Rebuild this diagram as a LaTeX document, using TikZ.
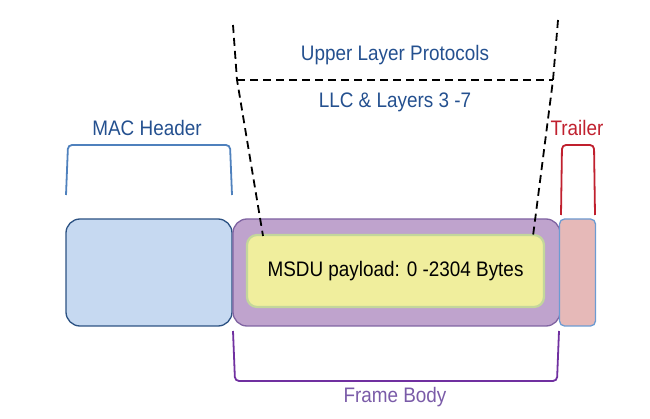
\documentclass[tikz,border=0pt]{standalone}
\usepackage{fontspec}
\setmainfont{Liberation Sans}[FakeStretch=0.9]
\definecolor{macfill}{HTML}{C6D9F1}
\definecolor{macline}{HTML}{2C5283}
\definecolor{bodyfill}{HTML}{BFA3CD}
\definecolor{bodyline}{HTML}{8064A2}
\definecolor{payfill}{HTML}{F0EE9D}
\definecolor{payline}{HTML}{C3D69B}
\definecolor{trailfill}{HTML}{E6B9B8}
\definecolor{trailline}{HTML}{6C9BD2}
\definecolor{labelblue}{HTML}{24508F}
\definecolor{braceblue}{HTML}{4F81BD}
\definecolor{tred}{HTML}{C0202E}
\definecolor{bracepurple}{HTML}{7030A0}
\definecolor{labelpurple}{HTML}{7A5BA8}
\tikzset{
  field/.style={draw, rounded corners=14pt, line width=1.3pt, inner sep=0pt},
  brace/.style={line width=1.8pt, rounded corners=4pt},
  layerline/.style={line width=1.8pt, dash pattern=on 8pt off 5pt},
  lbl/.style={font=\fontsize{21}{24}\selectfont}
}

\begin{document}
\begin{tikzpicture}[x=1pt,y=-1pt]
    \useasboundingbox (0,0) rectangle (650,419);

    % frame fields
    \node[field, fill=macfill, draw=macline, minimum width=166pt, minimum height=107pt] (mac) at (149,272.5) {};
    \node[field, fill=bodyfill, draw=bodyline, minimum width=327pt, minimum height=107pt] (body) at (396.5,272.5) {};
    \node[field, fill=payfill, draw=payline, line width=2.2pt, rounded corners=10pt, minimum width=297pt, minimum height=72pt] (msdu) at (395.5,271) {};
    \node[field, fill=trailfill, draw=trailline, rounded corners=5pt, minimum width=36pt, minimum height=107pt] (trailer) at (577.5,272.5) {};
    \node[lbl] at (msdu.center) {MSDU payload: 0 -2304 Bytes};

    % braces
    \draw[brace, braceblue] (66,195) -- (68,145) -- (230,145) -- (232,195);
    \node[lbl, text=labelblue] (machdr) at (147,128) {MAC Header};
    \draw[brace, tred] (561,215) -- (562,145) -- (594,145) -- (595,215);
    \node[lbl, text=tred] (trl) at (577,128) {Trailer};
    \draw[brace, bracepurple] (233,331) -- (235,381) -- (557,381) -- (559,331);
    \node[lbl, text=labelpurple] (fbody) at (395,397) {Frame Body};

    % upper layers
    \coordinate (lt) at (233,25);
    \coordinate (lc) at (237,80);
    \coordinate (rt) at (558,20);
    \coordinate (rc) at (553,80);
    \coordinate (lb) at (263,236);
    \coordinate (rb) at (533,236);
    \draw[layerline] (lt) -- (lc) -- (lb);
    \draw[layerline] (rt) -- (rc) -- (rb);
    \draw[layerline] (lc) -- (rc);
    \node[lbl, text=labelblue] (upper) at (395,55) {Upper Layer Protocols};
    \node[lbl, text=labelblue] (llc) at (395,102) {LLC \& Layers 3 -7};
\end{tikzpicture}
\end{document}
